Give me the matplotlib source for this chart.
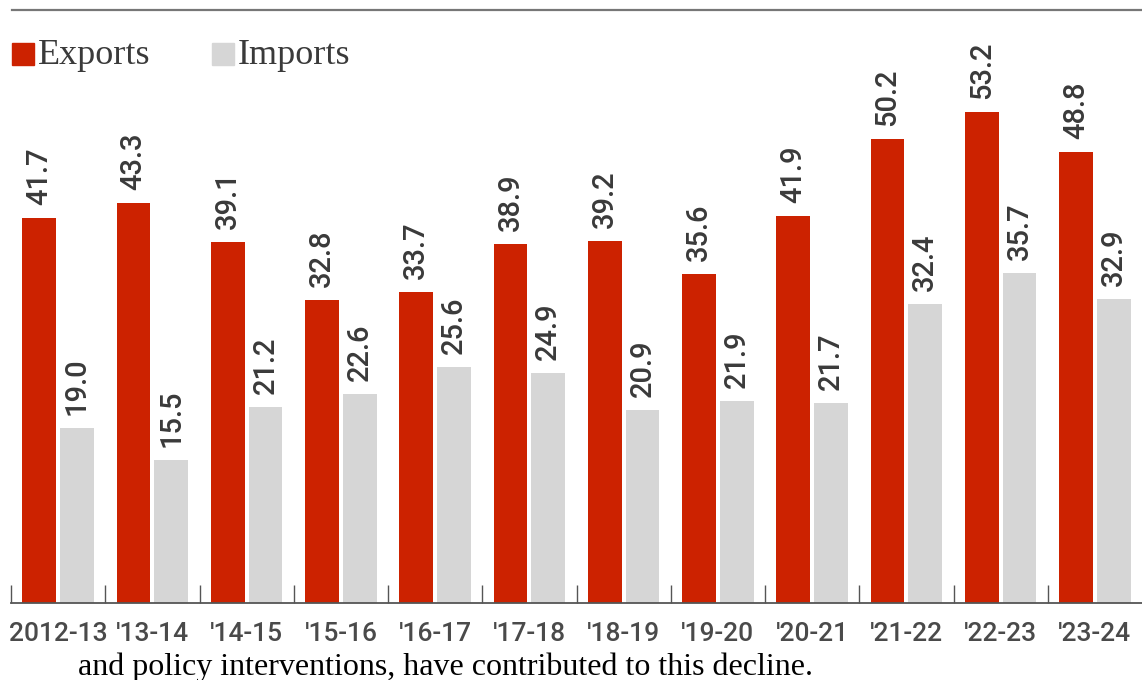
import numpy as np
import matplotlib
matplotlib.use('Agg')
import matplotlib.pyplot as plt

years = ['2012-13', "'13-14", "'14-15", "'15-16", "'16-17", "'17-18",
         "'18-19", "'19-20", "'20-21", "'21-22", "'22-23", "'23-24"]
exports = [41.7, 43.3, 39.1, 32.8, 33.7, 38.9, 39.2, 35.6, 41.9, 50.2, 53.2, 48.8]
imports = [19.0, 15.5, 21.2, 22.6, 25.6, 24.9, 20.9, 21.9, 21.7, 32.4, 35.7, 32.9]

sans = 'Roboto'
serif = 'Liberation Serif'

red = '#CC2200'
grey = '#D6D6D6'
txt = '#3a3a3a'

W, H = 1142, 680
fig = plt.figure(figsize=(W / 100, H / 100), dpi=100)
ax = fig.add_axes([11 / W, (H - 603) / H, (W - 11) / W, 593 / H])

x = np.arange(len(years))
ax.bar(x - 0.2, exports, width=0.36, color=red)
ax.bar(x + 0.2, imports, width=0.36, color=grey)

for xi, v in zip(x, exports):
    ax.annotate(f'{v:.1f}', (xi - 0.2, v), xytext=(0, 13), textcoords='offset pixels',
                rotation=90, ha='center', va='bottom', fontsize=21, family=sans,
                weight='medium', color=txt)
for xi, v in zip(x, imports):
    ax.annotate(f'{v:.1f}', (xi + 0.2, v), xytext=(0, 13), textcoords='offset pixels',
                rotation=90, ha='center', va='bottom', fontsize=21, family=sans,
                weight='medium', color=txt)

ax.set_xlim(-0.5, 11.5)
ax.set_ylim(0, 64.2)
ax.set_yticks([])
for s in ['top', 'right', 'left']:
    ax.spines[s].set_visible(False)
ax.spines['bottom'].set_color('#555555')
ax.spines['bottom'].set_linewidth(1.3)

ax.set_xticks(x)
ax.set_xticklabels(years, family=sans, fontsize=19, weight='medium', color='#4a4a4a')
ax.tick_params(axis='x', which='major', length=0, pad=14)
ax.set_xticks(np.arange(-0.5, 11.5, 1), minor=True)
ax.tick_params(axis='x', which='minor', direction='in', length=13, width=1, color='#555555')

# top rule
fig.add_artist(plt.Line2D([12 / W, 1.0], [1 - 10 / H, 1 - 10 / H], color='#777777', lw=1.6))

# legend
fig.patches.append(plt.Rectangle((12 / W, 1 - 65 / H), 22 / W, 22 / H, color=red,
                                 transform=fig.transFigure, figure=fig))
fig.text(38 / W, 1 - 55 / H, 'Exports', family=serif, fontsize=26, color=txt, va='center')
fig.patches.append(plt.Rectangle((212 / W, 1 - 65 / H), 22 / W, 22 / H, color=grey,
                                 transform=fig.transFigure, figure=fig))
fig.text(238 / W, 1 - 55 / H, 'Imports', family=serif, fontsize=26, color=txt, va='center')

fig.text(78 / W, 1 - 675 / H, 'and policy interventions, have contributed to this decline.',
         family=serif, fontsize=23, color='black', va='baseline')

fig.savefig('out.png', dpi=100)
